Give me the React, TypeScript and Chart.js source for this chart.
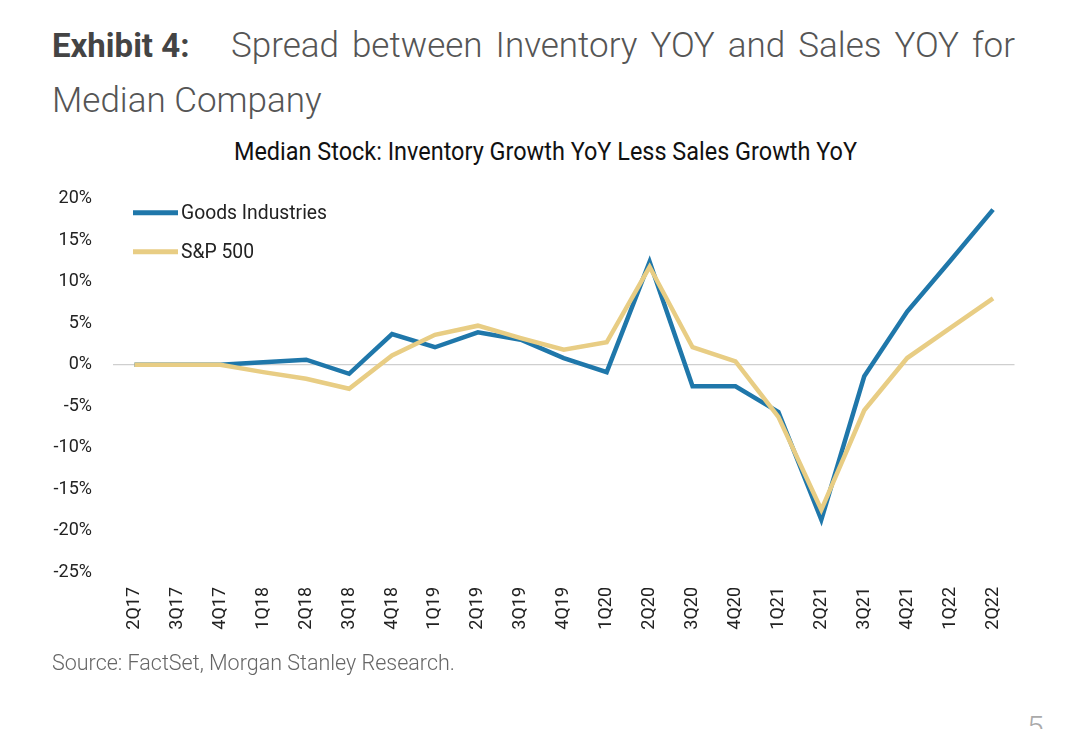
import React, { useEffect, useRef } from "react";
import { Chart, registerables } from "chart.js";

Chart.register(...registerables);

const categories = [
  "2Q17", "3Q17", "4Q17", "1Q18", "2Q18", "3Q18", "4Q18", "1Q19", "2Q19", "3Q19", "4Q19",
  "1Q20", "2Q20", "3Q20", "4Q20", "1Q21", "2Q21", "3Q21", "4Q21", "1Q22", "2Q22",
];
const goodsIndustries = [
  0, 0, 0, 0.3, 0.6, -1.1, 3.7, 2.1, 3.9, 3.0, 0.8, -0.9, 12.4, -2.6, -2.6, -5.7, -18.7, -1.4, 6.4, 12.5, 18.7,
];
const sp500 = [
  0, 0, 0, -0.9, -1.7, -2.9, 1.1, 3.6, 4.7, 3.2, 1.8, 2.7, 11.8, 2.1, 0.4, -6.3, -17.5, -5.5, 0.8, 4.4, 8.0,
];
const yTicks = [-25, -20, -15, -10, -5, 0, 5, 10, 15, 20];
const seriesNames = ["Goods Industries", "S&P 500"];

const BLUE = "#1F77AA";
const GOLD = "#E8CD84";
const FONT = "Roboto, 'Noto Sans', sans-serif";

const insideLegend = {
  id: "insideLegend",
  afterDraw(chart: any) {
    const { ctx, chartArea } = chart;
    const items = [
      { label: seriesNames[0], color: BLUE, dy: 14 },
      { label: seriesNames[1], color: GOLD, dy: 53 },
    ];
    ctx.save();
    items.forEach((it) => {
      const y = chartArea.top + it.dy;
      const x0 = chartArea.left + 20;
      ctx.strokeStyle = it.color;
      ctx.lineWidth = 5;
      ctx.lineCap = "butt";
      ctx.beginPath();
      ctx.moveTo(x0, y);
      ctx.lineTo(x0 + 45, y);
      ctx.stroke();
      ctx.save();
      ctx.translate(x0 + 48, y + 1);
      ctx.scale(0.92, 1);
      ctx.fillStyle = "#222";
      ctx.font = `21px ${FONT}`;
      ctx.textBaseline = "middle";
      ctx.textAlign = "left";
      ctx.fillText(it.label, 0, 0);
      ctx.restore();
    });
    ctx.restore();
  },
};

function LineChart() {
  const ref = useRef<HTMLCanvasElement | null>(null);
  useEffect(() => {
    if (!ref.current) return;
    const chart = new Chart(ref.current, {
      type: "line",
      data: {
        labels: categories,
        datasets: [
          {
            label: seriesNames[0],
            data: goodsIndustries,
            borderColor: BLUE,
            backgroundColor: BLUE,
            borderWidth: 4.5,
            pointRadius: 0,
            tension: 0,
            order: 2,
          },
          {
            label: seriesNames[1],
            data: sp500,
            borderColor: GOLD,
            backgroundColor: GOLD,
            borderWidth: 4.5,
            pointRadius: 0,
            tension: 0,
            order: 1,
          },
        ],
      },
      options: {
        animation: false,
        responsive: false,
        devicePixelRatio: 1,
        layout: { padding: { top: 0, right: 15, left: 0, bottom: 0 } },
        plugins: {
          legend: { display: false },
          title: { display: false },
          tooltip: { enabled: false },
        },
        scales: {
          x: {
            type: "category",
            offset: true,
            grid: { display: false, drawTicks: false },
            border: { display: false },
            ticks: {
              autoSkip: false,
              maxRotation: 90,
              minRotation: 90,
              padding: 15,
              color: "#222",
              font: { family: FONT, size: 18 },
            },
            afterFit: (s: any) => {
              s.height = 78;
            },
          },
          y: {
            min: yTicks[0],
            max: yTicks[yTicks.length - 1],
            afterBuildTicks: (s: any) => {
              s.ticks = yTicks.map((v) => ({ value: v }));
            },
            ticks: {
              padding: 21,
              color: "#222",
              font: { family: FONT, size: 18 },
              callback: (v: any) => `${v}%`,
            },
            grid: {
              drawTicks: false,
              color: (c: any) => (c.tick && c.tick.value === 0 ? "#cfcfcf" : "rgba(0,0,0,0)"),
              lineWidth: 1.2,
            },
            border: { display: false },
            afterFit: (s: any) => {
              s.width = 73;
            },
          },
        },
      },
      plugins: [insideLegend],
    });
    return () => chart.destroy();
  }, []);
  return (
    <canvas
      ref={ref}
      width={990}
      height={483}
      style={{ position: "absolute", left: 40, top: 167, width: 990, height: 483 }}
    />
  );
}

export default function App() {
  return (
    <div
      style={{
        position: "fixed",
        left: 0,
        top: 0,
        width: 1067,
        height: 729,
        overflow: "hidden",
        background: "#fff",
        fontFamily: FONT,
      }}
    >
      <div
        style={{
          position: "absolute",
          left: 52,
          top: 19,
          width: 963,
          lineHeight: "54px",
          fontSize: 35,
          fontWeight: 300,
          color: "#555",
          textAlign: "justify",
          textAlignLast: "justify" as any,
        }}
      >
        <span style={{ display: "inline-block", width: 179, fontWeight: 700, fontSize: 33, color: "#444", textAlignLast: "left" as any }}>
          Exhibit 4:
        </span>
        Spread between Inventory YOY and Sales YOY for
      </div>
      <div
        style={{
          position: "absolute",
          left: 52,
          top: 74,
          lineHeight: "54px",
          fontSize: 35,
          fontWeight: 300,
          color: "#555",
          whiteSpace: "nowrap",
        }}
      >
        Median Company
      </div>
      <div
        style={{
          position: "absolute",
          left: 52,
          top: 134,
          width: 975,
          textAlign: "center",
          fontSize: 26.5,
          lineHeight: "34px",
          color: "#111",
          whiteSpace: "nowrap",
          transform: "scaleX(0.885)",
          transformOrigin: "539.5px 50%",
        }}
      >
        Median Stock: Inventory Growth YoY Less Sales Growth YoY
      </div>
      <LineChart />
      <div
        style={{
          position: "absolute",
          left: 52,
          top: 648,
          fontSize: 21.5,
          lineHeight: "30px",
          fontWeight: 300,
          color: "#666",
          whiteSpace: "nowrap",
        }}
      >
        Source: FactSet, Morgan Stanley Research.
      </div>
      <div
        style={{
          position: "absolute",
          left: 1027,
          top: 707,
          fontSize: 30,
          lineHeight: "40px",
          fontWeight: 300,
          color: "#aaa",
        }}
      >
        5
      </div>
    </div>
  );
}
